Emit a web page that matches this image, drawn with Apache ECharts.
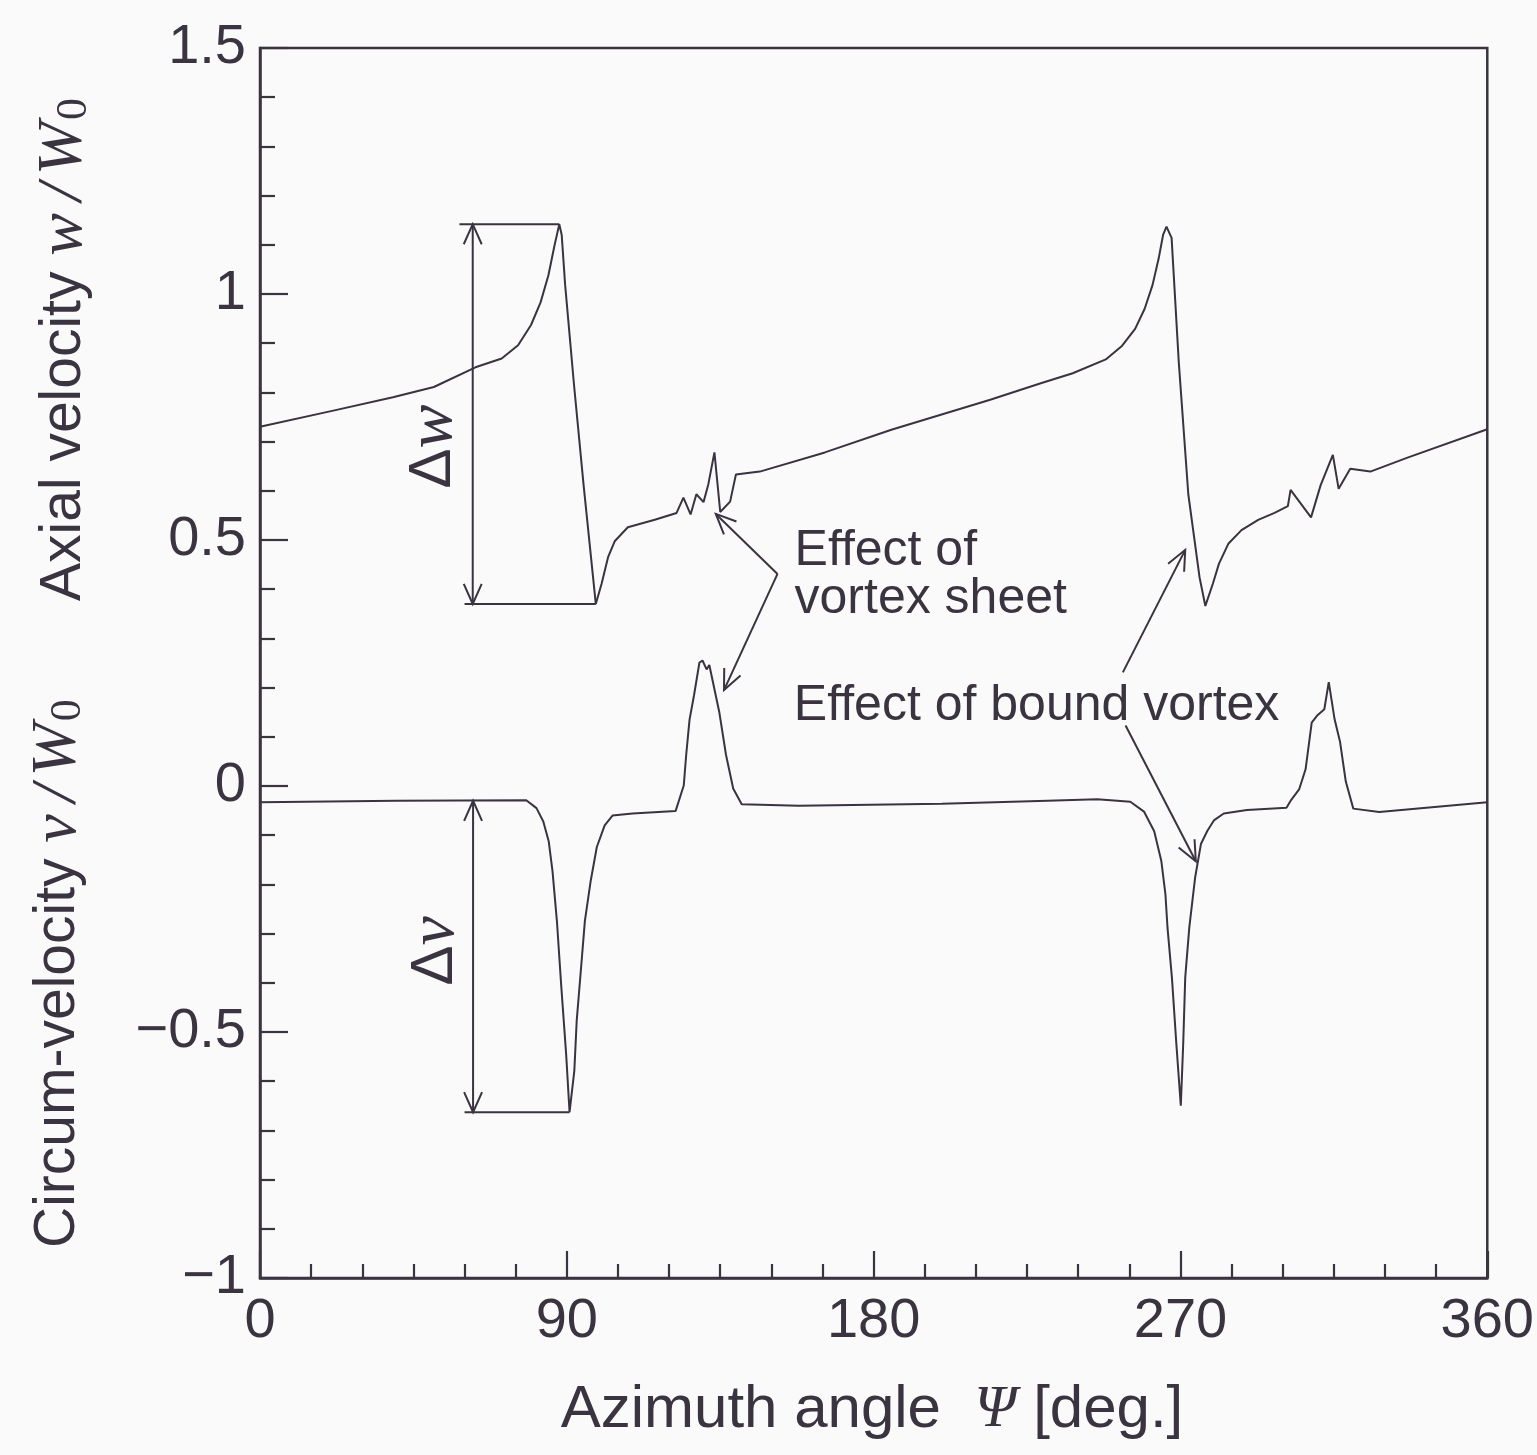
<!DOCTYPE html>
<html>
<head>
<meta charset="utf-8">
<script src="https://cdn.jsdelivr.net/npm/echarts@6/dist/echarts.min.js"></script>
<style>
html,body{margin:0;padding:0;background:#fbfafa;}
#c{width:1537px;height:1455px;}
</style>
</head>
<body>
<div id="c"></div>
<script>
// ---------- data ----------
const xTickValues = [0, 90, 180, 270, 360];
const yTickValues = [-1, -0.5, 0, 0.5, 1, 1.5];

// Axial velocity w/W0 vs azimuth angle
const axialAngle = [0, 21.5, 39, 51, 63.2, 70.9, 75.7, 79.5, 82.3, 84.6, 86.4, 87.8, 88.5, 89.5, 92.1, 94.9, 98.5, 100.2, 102.1, 104.1, 107.9, 115.8, 122.2, 124.2, 126.3, 128, 130.1, 131.5, 133.3, 135, 137.9, 139.6, 146.6, 165.7, 185.2, 214.2, 228.8, 238.4, 248.1, 252.9, 256.7, 259.5, 261.8, 263.6, 264.9, 265.9, 267.4, 269.5, 272.3, 275.6, 277.3, 279.5, 281.3, 284.1, 287.9, 292.8, 297.6, 301.5, 302.3, 308.3, 311.1, 314.7, 316.4, 319.8, 325.7, 336.4, 360];
const axialW = [0.73, 0.763, 0.79, 0.811, 0.851, 0.869, 0.896, 0.937, 0.983, 1.038, 1.099, 1.142, 1.12, 1.019, 0.816, 0.613, 0.37, 0.411, 0.465, 0.498, 0.526, 0.541, 0.555, 0.586, 0.552, 0.593, 0.577, 0.613, 0.678, 0.557, 0.578, 0.633, 0.639, 0.678, 0.724, 0.785, 0.818, 0.839, 0.867, 0.895, 0.929, 0.970, 1.018, 1.072, 1.12, 1.137, 1.114, 0.862, 0.593, 0.424, 0.366, 0.411, 0.452, 0.493, 0.52, 0.541, 0.555, 0.569, 0.602, 0.546, 0.611, 0.673, 0.604, 0.645, 0.639, 0.667, 0.725];

// Circumferential velocity v/W0 vs azimuth angle
const circumAngle = [0, 40, 78.1, 81.1, 83.1, 84.7, 85.8, 87.1, 88.4, 89.8, 90.8, 92.2, 92.9, 94.1, 95.3, 97, 98.8, 101.1, 103.4, 109.3, 121.9, 124.3, 125, 126, 127.3, 128.9, 129.8, 131, 131.8, 134.7, 136.7, 138.8, 141.3, 158, 200, 231, 245.6, 255.3, 259.3, 262.3, 264.4, 265.6, 266.2, 267.5, 268.8, 270.1, 270.8, 271.4, 272.6, 274.3, 276, 277.9, 279.8, 282.7, 289.5, 301.1, 302.5, 304.8, 306.7, 308.5, 310.2, 312.2, 313.5, 315.2, 316.8, 318.5, 320.7, 328.3, 360];
const circumV = [-0.033, -0.03, -0.029, -0.045, -0.072, -0.113, -0.173, -0.275, -0.41, -0.545, -0.663, -0.579, -0.477, -0.376, -0.274, -0.193, -0.124, -0.08, -0.06, -0.056, -0.051, 0.001, 0.062, 0.135, 0.184, 0.251, 0.255, 0.237, 0.246, 0.151, 0.063, -0.005, -0.037, -0.04, -0.036, -0.03, -0.027, -0.032, -0.052, -0.092, -0.153, -0.221, -0.288, -0.39, -0.525, -0.65, -0.525, -0.389, -0.287, -0.186, -0.118, -0.091, -0.07, -0.056, -0.049, -0.044, -0.028, -0.007, 0.034, 0.129, 0.144, 0.156, 0.211, 0.136, 0.09, 0.009, -0.046, -0.053, -0.033];

// Annotation anchors (data coordinates)
const deltaW = { x: 62.4, top: 1.142, bottom: 0.37, topLine: [58.5, 87.8], bottomLine: [60, 98.5], label: [51, 0.69] };
const deltaV = { x: 62.5, top: -0.03, bottom: -0.663, bottomLine: [60, 90.8], label: [51.4, -0.335] };
const sheetArrowFrom = [151.8, 0.431];
const sheetArrowTips = [[133.7, 0.553], [136.1, 0.195]];
const sheetText = [156.8, 0.429];
const boundArrows = [[[253.1, 0.231], [271.4, 0.48]], [[253.9, 0.123], [274.5, -0.153]]];
const boundText = [156.6, 0.163];

// ---------- chart ----------
const INK = '#3a3340';
const SANS = '"Liberation Sans", Arial, Helvetica, sans-serif';
const SERIF = '"Liberation Serif", "Times New Roman", serif';

const zip = (a, b) => a.map((v, i) => [v, b[i]]);
const fmt = v => String(v).replace('-', '\u2212');

const chart = echarts.init(document.getElementById('c'), null, { renderer: 'canvas' });

const option = {
  animation: false,
  backgroundColor: '#fbfafa',
  grid: {
    left: 260, right: 46, top: 48, bottom: 177,
    show: true, borderColor: INK, borderWidth: 2.5, backgroundColor: 'transparent'
  },
  xAxis: {
    type: 'value', min: 0, max: 360, interval: 90,
    axisLine: { show: true, onZero: false, lineStyle: { color: INK, width: 2.5 } },
    axisTick: { show: true, inside: true, length: 27, lineStyle: { color: INK, width: 2.2 } },
    minorTick: { show: true, splitNumber: 6, length: 14, lineStyle: { color: INK, width: 2.2 } },
    splitLine: { show: false },
    axisLabel: { color: INK, fontFamily: SANS, fontSize: 56, margin: 16, formatter: fmt }
  },
  yAxis: {
    type: 'value', min: -1, max: 1.5, interval: 0.5,
    axisLine: { show: true, onZero: false, lineStyle: { color: INK, width: 2.5 } },
    axisTick: { show: true, inside: true, length: 28, lineStyle: { color: INK, width: 2.2 } },
    minorTick: { show: true, splitNumber: 5, length: 15, lineStyle: { color: INK, width: 2.2 } },
    splitLine: { show: false },
    axisLabel: { color: INK, fontFamily: SANS, fontSize: 56, margin: 14, formatter: fmt }
  },
  series: [
    {
      name: 'Axial velocity', type: 'line', data: zip(axialAngle, axialW),
      showSymbol: false, symbol: 'none', lineStyle: { color: INK, width: 2 }, z: 3
    },
    {
      name: 'Circum-velocity', type: 'line', data: zip(circumAngle, circumV),
      showSymbol: false, symbol: 'none', lineStyle: { color: INK, width: 2 }, z: 3
    }
  ]
};
chart.setOption(option);

// ---------- annotations (positioned through the chart's own scales) ----------
const P = (pt) => chart.convertToPixel({ gridIndex: 0 }, pt);
const g = [];
const lineEl = (a, b, w) => ({
  type: 'line', silent: true, z: 10,
  shape: { x1: a[0], y1: a[1], x2: b[0], y2: b[1] },
  style: { stroke: INK, lineWidth: w || 2 }
});
const arrowHead = (from, tip) => {
  const dx = tip[0] - from[0], dy = tip[1] - from[1];
  const L = Math.hypot(dx, dy), ux = dx / L, uy = dy / L;
  const len = 22, ang = 0.42;
  const arm = s => {
    const c = Math.cos(s * ang), sn = Math.sin(s * ang);
    const rx = ux * c - uy * sn, ry = ux * sn + uy * c;
    return [tip[0] - rx * len, tip[1] - ry * len];
  };
  return {
    type: 'polyline', silent: true, z: 10,
    shape: { points: [arm(1), tip, arm(-1)] },
    style: { stroke: INK, lineWidth: 2, fill: null }
  };
};
const arrow = (fromD, tipD, both) => {
  const a = P(fromD), b = P(tipD);
  g.push(lineEl(a, b));
  g.push(arrowHead(a, b));
  if (both) g.push(arrowHead(b, a));
};

// Δw
arrow([deltaW.x, deltaW.bottom], [deltaW.x, deltaW.top], true);
g.push(lineEl(P([deltaW.topLine[0], deltaW.top]), P([deltaW.topLine[1], deltaW.top])));
g.push(lineEl(P([deltaW.bottomLine[0], deltaW.bottom]), P([deltaW.bottomLine[1], deltaW.bottom])));
// Δv
arrow([deltaV.x, deltaV.bottom], [deltaV.x, deltaV.top], true);
g.push(lineEl(P([deltaV.bottomLine[0], deltaV.bottom]), P([deltaV.bottomLine[1], deltaV.bottom])));

const rotText = (pt, text, rich, size) => {
  const p = P(pt);
  g.push({
    type: 'text', silent: true, z: 10, x: p[0], y: p[1], rotation: Math.PI / 2,
    style: {
      text: text, x: 0, y: 0, align: 'center', verticalAlign: 'middle',
      fill: INK, font: size + 'px ' + SANS, rich: rich
    }
  });
};
const greekRich = (size) => ({
  d: { fontFamily: SANS, fontSize: size, fill: INK },
  it: { fontFamily: SERIF, fontStyle: 'italic', fontSize: size + 6, fill: INK }
});
rotText(deltaW.label, '{d|\u0394}{it|w}', greekRich(60), 60);
rotText(deltaV.label, '{d|\u0394}{it|v}', greekRich(60), 60);

// vortex sheet
sheetArrowTips.forEach(t => arrow(sheetArrowFrom, t, false));
(function () {
  const p = P(sheetText);
  g.push({
    type: 'text', silent: true, z: 10, x: p[0], y: p[1],
    style: { text: 'Effect of\nvortex sheet', x: 0, y: 0, align: 'left', verticalAlign: 'middle',
      fill: INK, font: '50px ' + SANS, lineHeight: 48 }
  });
})();
// bound vortex
boundArrows.forEach(a => arrow(a[0], a[1], false));
(function () {
  const p = P(boundText);
  g.push({
    type: 'text', silent: true, z: 10, x: p[0], y: p[1],
    style: { text: 'Effect of bound vortex', x: 0, y: 0, align: 'left', verticalAlign: 'middle',
      fill: INK, font: '50px ' + SANS }
  });
})();

// axis titles (rotated, reading bottom to top)
const titleRich = {
  n: { fontFamily: SANS, fontSize: 57, fill: INK, lineHeight: 64 },
  it: { fontFamily: SERIF, fontStyle: 'italic', fontSize: 64, fill: INK, lineHeight: 64 },
  sl: { fontFamily: SERIF, fontStyle: 'italic', fontSize: 64, fill: INK, lineHeight: 64, padding: [0, 8, 0, 12] },
  sub: { fontFamily: SERIF, fontSize: 44, fill: INK, lineHeight: 44, verticalAlign: 'bottom', padding: [0, 0, 0, 2] }
};
g.push({
  type: 'text', silent: true, x: 64, y: 601, rotation: Math.PI / 2,
  style: { text: '{n|Axial velocity }{it|w}{sl|/}{it|W}{sub|0}', x: 0, y: 0, align: 'left', verticalAlign: 'middle', rich: titleRich }
});
g.push({
  type: 'text', silent: true, x: 58, y: 1248, rotation: Math.PI / 2,
  style: { text: '{n|Circum-velocity }{it|v}{sl|/}{it|W}{sub|0}', x: 0, y: 0, align: 'left', verticalAlign: 'middle', rich: titleRich }
});
g.push({
  type: 'text', silent: true, x: 872, y: 1410,
  style: {
    text: '{n|Azimuth angle  }{it|\u03A8}{n| [deg.]}', x: 0, y: 0, align: 'center', verticalAlign: 'middle',
    rich: {
      n: { fontFamily: SANS, fontSize: 60, fill: INK },
      it: { fontFamily: SERIF, fontStyle: 'italic', fontSize: 60, fill: INK }
    }
  }
});

chart.setOption({ graphic: { elements: g } });
</script>
</body>
</html>
